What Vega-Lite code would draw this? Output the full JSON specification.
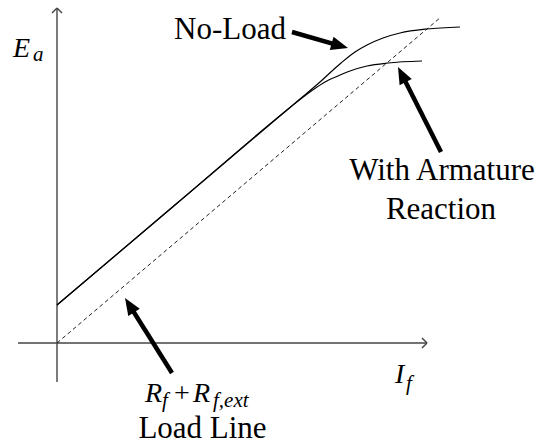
{
  "$schema": "https://vega.github.io/schema/vega-lite/v6.json",
  "width": 540,
  "height": 444,
  "autosize": {"type": "fit", "contains": "padding"},
  "padding": 0,
  "background": "white",
  "config": {"view": {"stroke": null}},
  "datasets": {
    "curves": [
      {"curve": "No-Load", "x": 0, "y": 38},
      {"curve": "No-Load", "x": 120, "y": 139.7},
      {"curve": "No-Load", "x": 243, "y": 244},
      {"curve": "No-Load", "x": 263, "y": 261},
      {"curve": "No-Load", "x": 284, "y": 280},
      {"curve": "No-Load", "x": 298, "y": 291},
      {"curve": "No-Load", "x": 310, "y": 298},
      {"curve": "No-Load", "x": 326, "y": 305},
      {"curve": "No-Load", "x": 343, "y": 310},
      {"curve": "No-Load", "x": 370, "y": 314},
      {"curve": "No-Load", "x": 403, "y": 316},
      {"curve": "Armature", "x": 0, "y": 38},
      {"curve": "Armature", "x": 120, "y": 139.7},
      {"curve": "Armature", "x": 233, "y": 235.5},
      {"curve": "Armature", "x": 243, "y": 243.5},
      {"curve": "Armature", "x": 255, "y": 252.5},
      {"curve": "Armature", "x": 268, "y": 261},
      {"curve": "Armature", "x": 281, "y": 267},
      {"curve": "Armature", "x": 293, "y": 272},
      {"curve": "Armature", "x": 310, "y": 277},
      {"curve": "Armature", "x": 331, "y": 280},
      {"curve": "Armature", "x": 365, "y": 282}
    ],
    "loadline": [
      {"x": 0, "y": 0, "x2": 384, "y2": 326}
    ],
    "axes": [
      {"x": -39, "y": 0, "x2": 370, "y2": 0},
      {"x": 0, "y": -39, "x2": 0, "y2": 335},
      {"x": 365, "y": 5, "x2": 370, "y2": 0},
      {"x": 365, "y": -5, "x2": 370, "y2": 0},
      {"x": -5, "y": 330, "x2": 0, "y2": 335},
      {"x": 5, "y": 330, "x2": 0, "y2": 335}
    ],
    "shafts": [
      {"x": 235, "y": 311, "x2": 283.3, "y2": 297.2},
      {"x": 384, "y": 191, "x2": 344.6, "y2": 268.9},
      {"x": 115, "y": -30, "x2": 72.2, "y2": 38.2}
    ],
    "heads": [
      {"x": 291, "y": 295, "heading": 105.9},
      {"x": 341, "y": 276, "heading": 333.2},
      {"x": 68, "y": 45, "heading": 327.9}
    ],
    "labels": [
      {"x": 173, "y": 304, "text": "No-Load"},
      {"x": 385, "y": 163, "text": "With Armature"},
      {"x": 384, "y": 124, "text": "Reaction"},
      {"x": 145.5, "y": -95, "text": "Load Line"}
    ],
    "symbols": [
      {"x": -44, "y": 286, "text": "E"},
      {"x": 338, "y": -40, "text": "I"},
      {"x": 88, "y": -59, "text": "R"},
      {"x": 136, "y": -59, "text": "R"}
    ],
    "subscripts": [
      {"x": -24, "y": 282, "text": "a"},
      {"x": 349, "y": -47, "text": "f"},
      {"x": 105, "y": -64, "text": "f"},
      {"x": 156, "y": -64, "text": "f,ext"}
    ],
    "operators": [
      {"x": 117, "y": -59, "text": "+"}
    ]
  },
  "encoding": {
    "x": {"field": "x", "type": "quantitative", "axis": null, "scale": {"domain": [-57, 483], "nice": false, "zero": false}},
    "y": {"field": "y", "type": "quantitative", "axis": null, "scale": {"domain": [-101, 343], "nice": false, "zero": false}}
  },
  "layer": [
    {
      "data": {"name": "axes"},
      "mark": {"type": "rule", "color": "#444444", "strokeWidth": 1.4},
      "encoding": {"x2": {"field": "x2"}, "y2": {"field": "y2"}}
    },
    {
      "data": {"name": "loadline"},
      "mark": {"type": "rule", "color": "#222222", "strokeWidth": 1, "strokeDash": [4, 3]},
      "encoding": {"x2": {"field": "x2"}, "y2": {"field": "y2"}}
    },
    {
      "data": {"name": "curves"},
      "mark": {"type": "line", "color": "black", "strokeWidth": 1.2, "interpolate": "monotone"},
      "encoding": {"detail": {"field": "curve"}}
    },
    {
      "data": {"name": "shafts"},
      "mark": {"type": "rule", "color": "black", "strokeWidth": 4.5},
      "encoding": {"x2": {"field": "x2"}, "y2": {"field": "y2"}}
    },
    {
      "data": {"name": "heads"},
      "mark": {"type": "point", "filled": true, "opacity": 1, "color": "black", "shape": "M0,0 L0.4,1 L-0.4,1 Z", "size": 1156},
      "encoding": {"angle": {"field": "heading", "type": "quantitative", "scale": null}}
    },
    {
      "data": {"name": "labels"},
      "mark": {"type": "text", "font": "Liberation Serif", "fontSize": 31, "align": "center", "baseline": "alphabetic", "color": "black"},
      "encoding": {"text": {"field": "text"}}
    },
    {
      "data": {"name": "symbols"},
      "mark": {"type": "text", "font": "Liberation Serif", "fontStyle": "italic", "fontSize": 28, "align": "left", "baseline": "alphabetic", "color": "black"},
      "encoding": {"text": {"field": "text"}}
    },
    {
      "data": {"name": "subscripts"},
      "mark": {"type": "text", "font": "Liberation Serif", "fontStyle": "italic", "fontSize": 21, "align": "left", "baseline": "alphabetic", "color": "black"},
      "encoding": {"text": {"field": "text"}}
    },
    {
      "data": {"name": "operators"},
      "mark": {"type": "text", "font": "Liberation Serif", "fontSize": 28, "align": "left", "baseline": "alphabetic", "color": "black"},
      "encoding": {"text": {"field": "text"}}
    }
  ]
}
